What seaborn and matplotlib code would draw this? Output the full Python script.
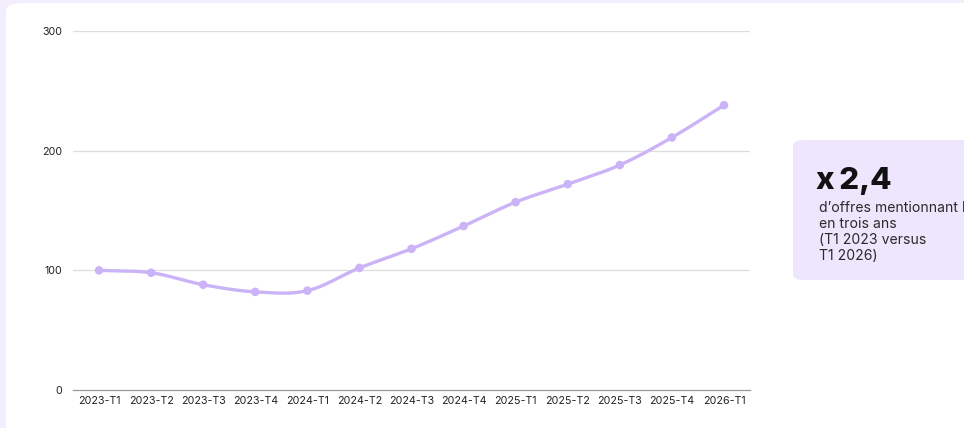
import numpy as np
import pandas as pd
import matplotlib
matplotlib.use("Agg")
import matplotlib.pyplot as plt
from matplotlib.patches import FancyBboxPatch
import seaborn as sns

quarters = ["2023-T1", "2023-T2", "2023-T3", "2023-T4", "2024-T1", "2024-T2", "2024-T3",
            "2024-T4", "2025-T1", "2025-T2", "2025-T3", "2025-T4", "2026-T1"]
values = [100, 98, 88, 82, 83, 102, 118, 137, 157, 172, 188, 211, 238]
y_ticks = [0, 100, 200, 300]
kpi_value = "x\u20092,4"
kpi_text = "d\u2019offres mentionnant l\u2019IA\nen trois ans\n(T1 2023 versus\nT1 2026)"

sns.set_theme(style="white")
plt.rcParams["font.family"] = ["Inter", "DejaVu Sans"]

LINE = "#cbb3f7"
W, H = 964, 428
fig = plt.figure(figsize=(W / 100, H / 100), dpi=100)
fig.patch.set_facecolor("#f2eefc")

# white card
card = FancyBboxPatch((6 / W, -0.1), 1.2, (H - 3) / H + 0.1,
                      boxstyle="round,pad=0,rounding_size=0.018",
                      transform=fig.transFigure, facecolor="white", edgecolor="none", zorder=-10)
fig.patches.append(card)

ax = fig.add_axes([73 / W, (H - 390) / H, (750 - 73) / W, (390 - 31) / H])
ax.set_zorder(5)
ax.set_facecolor("none")

# smooth curve through the data points (Catmull-Rom style cubic Hermite)
x = np.arange(len(values), dtype=float)
y = np.array(values, dtype=float)
m = np.zeros_like(y)
m[0] = y[1] - y[0]
m[-1] = y[-1] - y[-2]
m[1:-1] = (y[2:] - y[:-2]) / 2.0
xs, ys = [], []
for i in range(len(y) - 1):
    t = np.linspace(0, 1, 30, endpoint=False)
    h00 = 2 * t**3 - 3 * t**2 + 1
    h10 = t**3 - 2 * t**2 + t
    h01 = -2 * t**3 + 3 * t**2
    h11 = t**3 - t**2
    xs.extend(x[i] + t)
    ys.extend(h00 * y[i] + h10 * m[i] + h01 * y[i + 1] + h11 * m[i + 1])
xs.append(x[-1]); ys.append(y[-1])
curve = pd.DataFrame({"x": xs, "y": ys})
pts = pd.DataFrame({"x": x, "y": y})

sns.lineplot(data=curve, x="x", y="y", ax=ax, color=LINE, linewidth=2.4, zorder=3)
sns.scatterplot(data=pts, x="x", y="y", ax=ax, color=LINE, s=38, edgecolor="none", zorder=4)

ax.set_xlim(-0.5, len(values) - 0.5)
ax.set_ylim(0, 300)
ax.set_yticks(y_ticks)
ax.set_yticklabels([str(v) for v in y_ticks])
ax.set_xticks(x)
ax.set_xticklabels(quarters)
ax.tick_params(axis="both", length=0, labelsize=7.7, colors="#222222")
ax.tick_params(axis="y", pad=8)
ax.tick_params(axis="x", pad=4)
ax.set_xlabel("")
ax.set_ylabel("")
for v in y_ticks[1:]:
    ax.axhline(v, color="#dddddd", linewidth=0.9, zorder=1)
for s in ["top", "right", "left"]:
    ax.spines[s].set_visible(False)
ax.spines["bottom"].set_color("#999999")
ax.spines["bottom"].set_linewidth(0.9)

# KPI box
box = FancyBboxPatch((793 / W, (H - 280) / H), 0.3, 140 / H,
                     boxstyle="round,pad=0,rounding_size=0.012",
                     transform=fig.transFigure, facecolor="#ede6fd", edgecolor="none", zorder=1)
fig.patches.append(box)
fig.text(816 / W, (H - 189) / H, kpi_value, fontsize=22.5, fontweight=800,
         color="#111111", ha="left", va="baseline", zorder=6)
fig.text(819 / W, (H - 201) / H, kpi_text, fontsize=10.1, color="#2a2a2a",
         ha="left", va="top", linespacing=1.17, zorder=6)

fig.savefig("out.png", dpi=100, facecolor=fig.get_facecolor())
